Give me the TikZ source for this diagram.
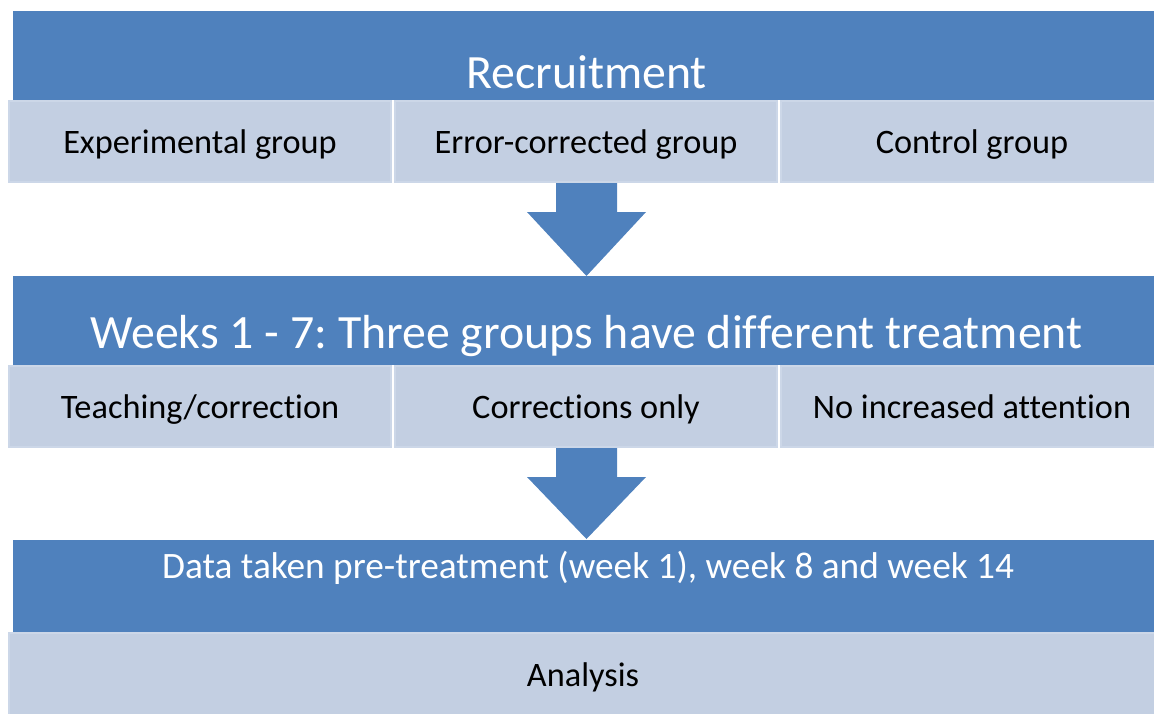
\documentclass[tikz,border=0pt]{standalone}
\usepackage{fontspec}
\setmainfont{Carlito}[Ligatures=NoCommon]
\frenchspacing
\definecolor{bandblue}{HTML}{4F81BD}
\definecolor{cellblue}{HTML}{C3CFE2}
\definecolor{celledge}{HTML}{CCD7E8}
\begin{document}
\begin{tikzpicture}[x=1pt,y=-1pt,
every node/.style={anchor=north west,inner sep=0pt,outer sep=0pt},
band/.style={fill=bandblue,minimum height=89pt,minimum width=1141.3pt},
cell/.style={fill=cellblue,draw=celledge,line width=2pt,minimum height=81pt,minimum width=382pt,text height=24pt,text depth=1pt,font=\fontsize{34.3}{40}\selectfont},
tag/.style={anchor=center,text=white},
flow/.style={fill=bandblue},
]
\useasboundingbox (0,0) rectangle (1154,713);
%\draw[help lines,step=50](0,0)grid(1154,713);

% stage 1
\node[band] (recruit) at (12.7,11) {};
\node[tag,font=\fontsize{47.8}{56}\selectfont] (recruitText) at (586.5,72) {Recruitment};
\node[cell] (exp) at (9,101) {Experimental group};
\node[cell] (err) at (395,101) {Error-corrected group};
\node[cell] (ctl) at (781,101) {Control group};

\coordinate (tailA) at (586.5,183);
\fill[flow] (tailA) ++(-30.5,0) -- ++(61,0) -- ++(0,29) -- ++(29,0) -- ++(-59.5,64)
  -- ++(-59.5,-64) -- ++(29,0) -- cycle;

% stage 2
\node[band] (weeks) at (12.7,276) {};
\node[tag,font=\fontsize{47.8}{56}\selectfont] (weeksText) at (586.5,336) {Weeks 1 - 7: Three groups have different treatment};
\node[cell] (teach) at (9,366) {Teaching/correction};
\node[cell] (corr) at (395,366) {Corrections only};
\node[cell] (none) at (781,366) {No increased attention};

\coordinate (tailB) at (586.5,448);
\fill[flow] (tailB) ++(-30.5,0) -- ++(61,0) -- ++(0,29) -- ++(29,0) -- ++(-59.5,62)
  -- ++(-59.5,-62) -- ++(29,0) -- cycle;

% stage 3
\node[band,minimum height=92pt] (data) at (12.7,540) {};
\node[tag,font=\fontsize{37.3}{44}\selectfont] (dataText) at (588,568) {Data taken pre-treatment (week 1), week 8 and week 14};
\node[cell,minimum width=1148pt,minimum height=84pt] (analysis) at (9,633) {Analysis};

\end{tikzpicture}
\end{document}
